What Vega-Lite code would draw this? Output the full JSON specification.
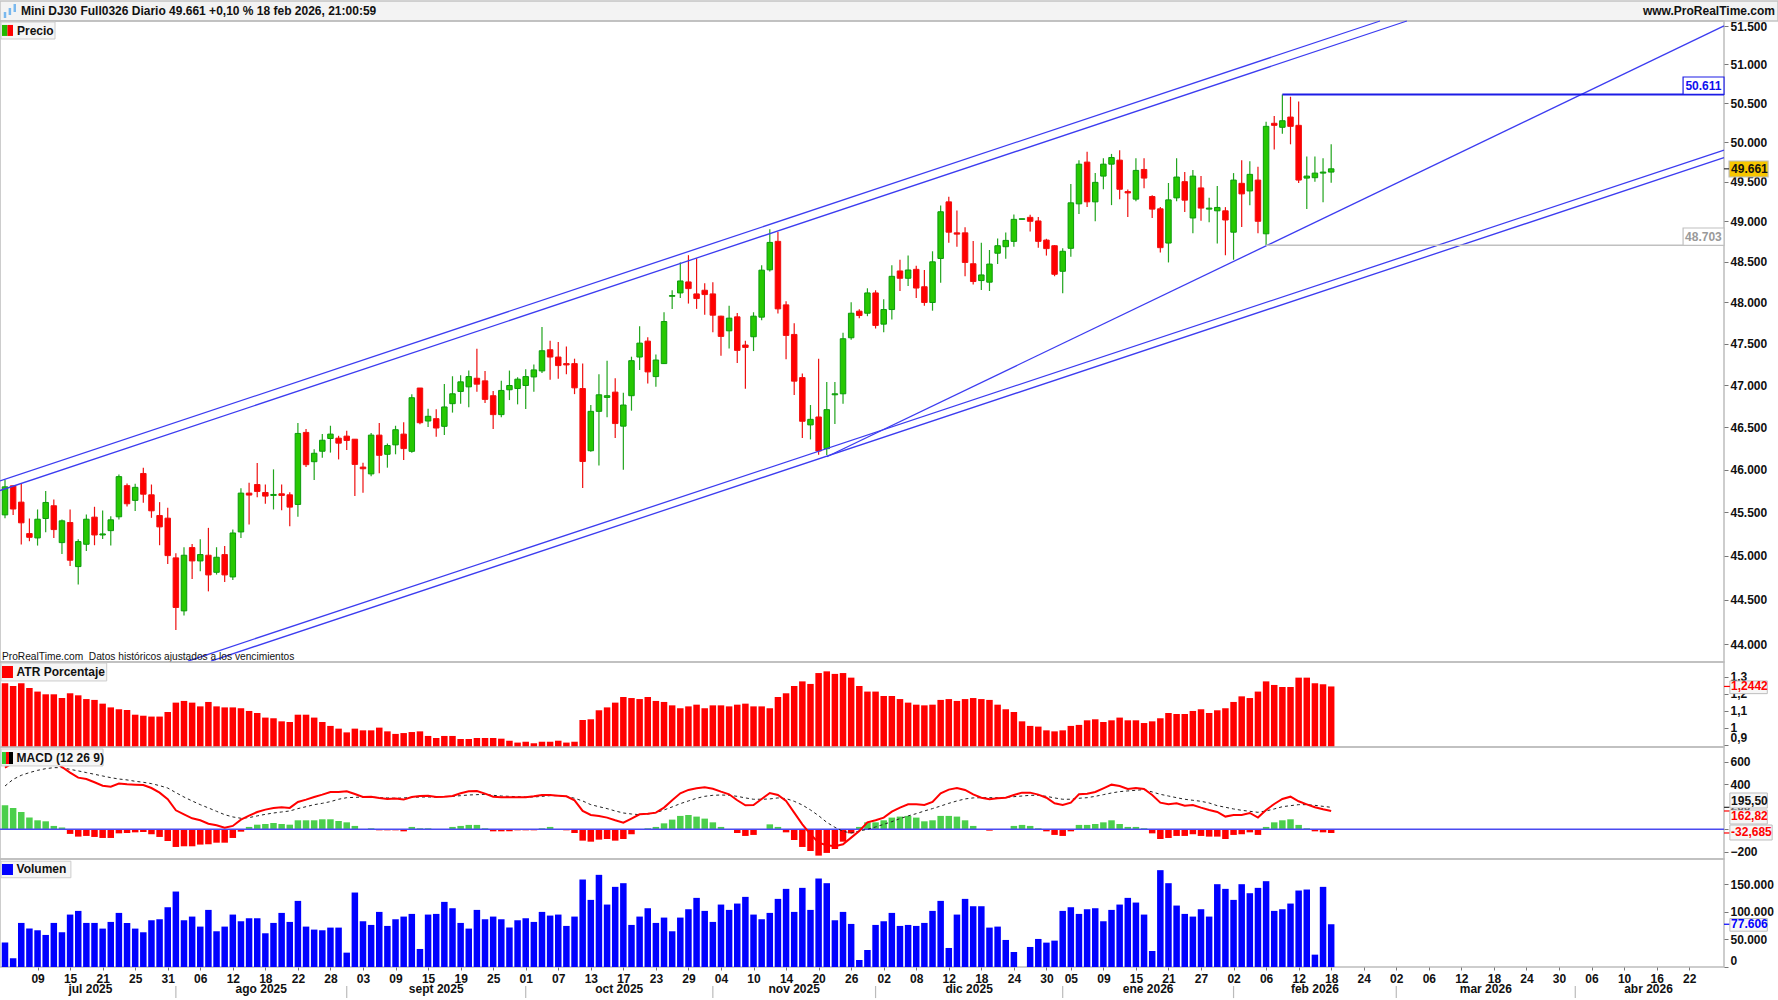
{
"$schema":"https://vega.github.io/schema/vega-lite/v6.json",
"padding":{"left":-4,"top":0,"right":0,"bottom":0},
"background":"#ffffff",
"spacing":0,
"bounds":"flush",
"config":{
 "font":"Liberation Sans",
 "view":{"stroke":"#bdbdbd","strokeWidth":1.5},
 "axis":{"grid":false,"domain":false,"title":null,"labelFont":"Liberation Sans","labelFontSize":12,"labelFontWeight":"bold","labelColor":"#111111","tickColor":"#777777","tickSize":4,"labelPadding":2,"labelOverlap":false,"labelBound":false},
 "text":{"font":"Liberation Sans","fontSize":12,"fontWeight":"bold","color":"#111111"}
},
"datasets":{"bars":[
{"i":0,"o":45472,"h":45881,"l":45432,"c":45798,"atr":1.263,"macd":548,"signal":385,"hist":213,"vol":44238},
{"i":1,"o":45810,"h":45810,"l":45472,"c":45540,"atr":1.247,"macd":593,"signal":444,"hist":190,"vol":15756},
{"i":2,"o":45620,"h":45833,"l":45129,"c":45380,"atr":1.263,"macd":622,"signal":480,"hist":154,"vol":79992},
{"i":3,"o":45256,"h":45430,"l":45168,"c":45213,"atr":1.235,"macd":637,"signal":504,"hist":104,"vol":69690},
{"i":4,"o":45206,"h":45535,"l":45118,"c":45422,"atr":1.214,"macd":643,"signal":524,"hist":80,"vol":66660},
{"i":5,"o":45430,"h":45749,"l":45271,"c":45616,"atr":1.198,"macd":637,"signal":539,"hist":71,"vol":58176},
{"i":6,"o":45578,"h":45651,"l":45206,"c":45302,"atr":1.198,"macd":607,"signal":548,"hist":30,"vol":79992},
{"i":7,"o":45152,"h":45419,"l":45022,"c":45403,"atr":1.176,"macd":554,"signal":548,"hist":15,"vol":63024},
{"i":8,"o":45384,"h":45535,"l":44885,"c":44950,"atr":1.204,"macd":504,"signal":533,"hist":-41,"vol":95142},
{"i":9,"o":44877,"h":45190,"l":44674,"c":45164,"atr":1.192,"macd":459,"signal":519,"hist":-65,"vol":101808},
{"i":10,"o":45133,"h":45477,"l":45057,"c":45422,"atr":1.17,"macd":447,"signal":504,"hist":-59,"vol":79992},
{"i":11,"o":45446,"h":45566,"l":45122,"c":45240,"atr":1.165,"macd":418,"signal":489,"hist":-68,"vol":79992},
{"i":12,"o":45240,"h":45523,"l":45194,"c":45252,"atr":1.143,"macd":388,"signal":474,"hist":-77,"vol":69690},
{"i":13,"o":45290,"h":45457,"l":45118,"c":45415,"atr":1.121,"macd":379,"signal":459,"hist":-77,"vol":81810},
{"i":14,"o":45450,"h":45942,"l":45419,"c":45917,"atr":1.11,"macd":406,"signal":447,"hist":-36,"vol":98172},
{"i":15,"o":45812,"h":45837,"l":45570,"c":45601,"atr":1.106,"macd":400,"signal":439,"hist":-33,"vol":79992},
{"i":16,"o":45640,"h":45833,"l":45516,"c":45792,"atr":1.078,"macd":397,"signal":427,"hist":-27,"vol":69690},
{"i":17,"o":45954,"h":46022,"l":45612,"c":45712,"atr":1.072,"macd":394,"signal":418,"hist":-24,"vol":63024},
{"i":18,"o":45705,"h":45825,"l":45438,"c":45519,"atr":1.067,"macd":367,"signal":406,"hist":-44,"vol":84840},
{"i":19,"o":45465,"h":45620,"l":45122,"c":45333,"atr":1.067,"macd":326,"signal":388,"hist":-68,"vol":86658},
{"i":20,"o":45434,"h":45554,"l":44908,"c":45003,"atr":1.094,"macd":267,"signal":367,"hist":-104,"vol":108474},
{"i":21,"o":44977,"h":45030,"l":44157,"c":44412,"atr":1.149,"macd":169,"signal":326,"hist":-157,"vol":136956},
{"i":22,"o":44374,"h":45099,"l":44322,"c":45007,"atr":1.159,"macd":133,"signal":287,"hist":-151,"vol":84840},
{"i":23,"o":45095,"h":45137,"l":44736,"c":44942,"atr":1.149,"macd":98,"signal":252,"hist":-151,"vol":91506},
{"i":24,"o":44942,"h":45190,"l":44824,"c":45015,"atr":1.127,"macd":80,"signal":219,"hist":-136,"vol":73326},
{"i":25,"o":45007,"h":45322,"l":44595,"c":44782,"atr":1.153,"macd":50,"signal":190,"hist":-133,"vol":103626},
{"i":26,"o":44812,"h":45099,"l":44786,"c":44984,"atr":1.127,"macd":36,"signal":160,"hist":-119,"vol":64842},
{"i":27,"o":45015,"h":45114,"l":44702,"c":44782,"atr":1.121,"macd":15,"signal":130,"hist":-119,"vol":73326},
{"i":28,"o":44759,"h":45302,"l":44725,"c":45263,"atr":1.121,"macd":30,"signal":110,"hist":-77,"vol":95142},
{"i":29,"o":45275,"h":45782,"l":45206,"c":45725,"atr":1.116,"macd":86,"signal":98,"hist":-21,"vol":83022},
{"i":30,"o":45725,"h":45845,"l":45360,"c":45702,"atr":1.1,"macd":121,"signal":104,"hist":21,"vol":88476},
{"i":31,"o":45825,"h":46076,"l":45678,"c":45744,"atr":1.088,"macd":154,"signal":119,"hist":41,"vol":88476},
{"i":32,"o":45732,"h":45825,"l":45601,"c":45690,"atr":1.061,"macd":175,"signal":133,"hist":47,"vol":61206},
{"i":33,"o":45698,"h":46002,"l":45535,"c":45709,"atr":1.057,"macd":190,"signal":145,"hist":56,"vol":79992},
{"i":34,"o":45717,"h":45825,"l":45527,"c":45698,"atr":1.039,"macd":196,"signal":154,"hist":47,"vol":98172},
{"i":35,"o":45705,"h":45736,"l":45341,"c":45562,"atr":1.035,"macd":190,"signal":163,"hist":41,"vol":81810},
{"i":36,"o":45593,"h":46548,"l":45450,"c":46425,"atr":1.078,"macd":243,"signal":184,"hist":80,"vol":119988},
{"i":37,"o":46437,"h":46477,"l":46029,"c":46057,"atr":1.078,"macd":264,"signal":201,"hist":80,"vol":73326},
{"i":38,"o":46092,"h":46239,"l":45877,"c":46191,"atr":1.061,"macd":287,"signal":219,"hist":80,"vol":67872},
{"i":39,"o":46215,"h":46417,"l":46139,"c":46345,"atr":1.035,"macd":308,"signal":231,"hist":89,"vol":66660},
{"i":40,"o":46365,"h":46516,"l":46199,"c":46417,"atr":1.012,"macd":332,"signal":246,"hist":89,"vol":71508},
{"i":41,"o":46369,"h":46397,"l":46119,"c":46310,"atr":0.996,"macd":332,"signal":267,"hist":74,"vol":71508},
{"i":42,"o":46393,"h":46457,"l":46230,"c":46342,"atr":0.974,"macd":338,"signal":281,"hist":62,"vol":26058},
{"i":43,"o":46357,"h":46357,"l":45690,"c":46060,"atr":0.996,"macd":314,"signal":284,"hist":30,"vol":135138},
{"i":44,"o":46029,"h":46080,"l":45729,"c":46009,"atr":0.986,"macd":287,"signal":287,"hist":0,"vol":83022},
{"i":45,"o":45949,"h":46429,"l":45922,"c":46405,"atr":0.986,"macd":290,"signal":287,"hist":9,"vol":76356},
{"i":46,"o":46405,"h":46548,"l":45957,"c":46167,"atr":1.002,"macd":279,"signal":281,"hist":-9,"vol":99990},
{"i":47,"o":46179,"h":46306,"l":46022,"c":46282,"atr":0.98,"macd":270,"signal":279,"hist":-9,"vol":74538},
{"i":48,"o":46290,"h":46516,"l":46179,"c":46469,"atr":0.965,"macd":273,"signal":276,"hist":-9,"vol":86658},
{"i":49,"o":46417,"h":46556,"l":46112,"c":46246,"atr":0.97,"macd":264,"signal":279,"hist":-18,"vol":91506},
{"i":50,"o":46214,"h":46890,"l":46197,"c":46849,"atr":0.976,"macd":287,"signal":284,"hist":21,"vol":96354},
{"i":51,"o":46965,"h":46965,"l":46533,"c":46552,"atr":0.98,"macd":296,"signal":287,"hist":9,"vol":32724},
{"i":52,"o":46572,"h":46718,"l":46501,"c":46628,"atr":0.953,"macd":299,"signal":287,"hist":9,"vol":95142},
{"i":53,"o":46600,"h":46711,"l":46386,"c":46489,"atr":0.941,"macd":287,"signal":287,"hist":0,"vol":96354},
{"i":54,"o":46509,"h":47013,"l":46407,"c":46739,"atr":0.953,"macd":290,"signal":290,"hist":0,"vol":118170},
{"i":55,"o":46778,"h":47106,"l":46672,"c":46896,"atr":0.953,"macd":296,"signal":293,"hist":21,"vol":106656},
{"i":56,"o":46924,"h":47118,"l":46778,"c":47039,"atr":0.935,"macd":320,"signal":299,"hist":30,"vol":79992},
{"i":57,"o":46979,"h":47174,"l":46735,"c":47102,"atr":0.935,"macd":338,"signal":305,"hist":39,"vol":69690},
{"i":58,"o":47082,"h":47437,"l":46920,"c":47011,"atr":0.941,"macd":341,"signal":308,"hist":39,"vol":103626},
{"i":59,"o":47051,"h":47170,"l":46786,"c":46829,"atr":0.941,"macd":317,"signal":311,"hist":9,"vol":86658},
{"i":60,"o":46873,"h":46928,"l":46476,"c":46648,"atr":0.941,"macd":290,"signal":302,"hist":-18,"vol":91506},
{"i":61,"o":46648,"h":47051,"l":46617,"c":46936,"atr":0.937,"macd":284,"signal":296,"hist":-18,"vol":86658},
{"i":62,"o":46944,"h":47174,"l":46821,"c":46995,"atr":0.925,"macd":284,"signal":293,"hist":-18,"vol":71508},
{"i":63,"o":46959,"h":47094,"l":46770,"c":47071,"atr":0.914,"macd":284,"signal":290,"hist":-9,"vol":84840},
{"i":64,"o":46995,"h":47190,"l":46715,"c":47102,"atr":0.919,"macd":284,"signal":287,"hist":-9,"vol":88476},
{"i":65,"o":47098,"h":47246,"l":46920,"c":47182,"atr":0.91,"macd":293,"signal":287,"hist":-9,"vol":81810},
{"i":66,"o":47170,"h":47701,"l":47146,"c":47413,"atr":0.919,"macd":305,"signal":293,"hist":9,"vol":99990},
{"i":67,"o":47425,"h":47534,"l":47063,"c":47337,"atr":0.919,"macd":305,"signal":299,"hist":21,"vol":93324},
{"i":68,"o":47337,"h":47518,"l":47075,"c":47234,"atr":0.925,"macd":299,"signal":299,"hist":0,"vol":95142},
{"i":69,"o":47258,"h":47465,"l":47130,"c":47242,"atr":0.914,"macd":293,"signal":293,"hist":-9,"vol":74538},
{"i":70,"o":47258,"h":47317,"l":46892,"c":46967,"atr":0.919,"macd":258,"signal":276,"hist":-33,"vol":91506},
{"i":71,"o":46959,"h":47258,"l":45783,"c":46094,"atr":1.047,"macd":163,"signal":252,"hist":-101,"vol":158772},
{"i":72,"o":46221,"h":46762,"l":46210,"c":46687,"atr":1.051,"macd":127,"signal":219,"hist":-110,"vol":121806},
{"i":73,"o":46687,"h":47130,"l":46048,"c":46884,"atr":1.104,"macd":119,"signal":201,"hist":-92,"vol":167256},
{"i":74,"o":46853,"h":47293,"l":46617,"c":46873,"atr":1.121,"macd":104,"signal":184,"hist":-86,"vol":113322},
{"i":75,"o":46916,"h":47082,"l":46370,"c":46542,"atr":1.149,"macd":80,"signal":163,"hist":-101,"vol":145440},
{"i":76,"o":46511,"h":46908,"l":45998,"c":46762,"atr":1.182,"macd":59,"signal":145,"hist":-86,"vol":152106},
{"i":77,"o":46873,"h":47341,"l":46695,"c":47293,"atr":1.176,"macd":95,"signal":136,"hist":-44,"vol":76356},
{"i":78,"o":47337,"h":47710,"l":47182,"c":47505,"atr":1.17,"macd":133,"signal":130,"hist":0,"vol":91506},
{"i":79,"o":47529,"h":47577,"l":47019,"c":47158,"atr":1.182,"macd":139,"signal":136,"hist":9,"vol":106656},
{"i":80,"o":47102,"h":47369,"l":46979,"c":47301,"atr":1.159,"macd":148,"signal":148,"hist":21,"vol":79992},
{"i":81,"o":47258,"h":47880,"l":47254,"c":47767,"atr":1.153,"macd":193,"signal":172,"hist":53,"vol":89688},
{"i":82,"o":48075,"h":48148,"l":47921,"c":48084,"atr":1.133,"macd":258,"signal":199,"hist":86,"vol":64842},
{"i":83,"o":48116,"h":48490,"l":48055,"c":48263,"atr":1.116,"macd":320,"signal":228,"hist":119,"vol":89688},
{"i":84,"o":48251,"h":48581,"l":47986,"c":48169,"atr":1.127,"macd":350,"signal":252,"hist":127,"vol":104838},
{"i":85,"o":48104,"h":48544,"l":47921,"c":48047,"atr":1.137,"macd":364,"signal":276,"hist":113,"vol":125442},
{"i":86,"o":48149,"h":48235,"l":47848,"c":48096,"atr":1.116,"macd":373,"signal":293,"hist":95,"vol":101808},
{"i":87,"o":48104,"h":48247,"l":47638,"c":47844,"atr":1.133,"macd":361,"signal":302,"hist":62,"vol":81810},
{"i":88,"o":47832,"h":47836,"l":47353,"c":47586,"atr":1.133,"macd":335,"signal":305,"hist":21,"vol":113322},
{"i":89,"o":47654,"h":47958,"l":47441,"c":47808,"atr":1.127,"macd":311,"signal":302,"hist":0,"vol":103626},
{"i":90,"o":47824,"h":47870,"l":47266,"c":47417,"atr":1.137,"macd":258,"signal":293,"hist":-33,"vol":115140},
{"i":91,"o":47482,"h":47534,"l":46955,"c":47453,"atr":1.143,"macd":213,"signal":279,"hist":-59,"vol":127260},
{"i":92,"o":47582,"h":47880,"l":47409,"c":47832,"atr":1.127,"macd":216,"signal":267,"hist":-50,"vol":95142},
{"i":93,"o":47820,"h":48457,"l":47783,"c":48396,"atr":1.127,"macd":270,"signal":267,"hist":0,"vol":86658},
{"i":94,"o":48400,"h":48902,"l":48379,"c":48739,"atr":1.116,"macd":323,"signal":270,"hist":44,"vol":98172},
{"i":95,"o":48752,"h":48868,"l":47864,"c":47921,"atr":1.182,"macd":305,"signal":279,"hist":21,"vol":123624},
{"i":96,"o":47970,"h":48015,"l":47309,"c":47598,"atr":1.204,"macd":252,"signal":273,"hist":-27,"vol":141804},
{"i":97,"o":47610,"h":47747,"l":46881,"c":47047,"atr":1.247,"macd":148,"signal":249,"hist":-95,"vol":99990},
{"i":98,"o":47090,"h":47138,"l":46370,"c":46569,"atr":1.274,"macd":44,"signal":216,"hist":-157,"vol":143622},
{"i":99,"o":46526,"h":46762,"l":46354,"c":46592,"atr":1.259,"macd":-44,"signal":172,"hist":-193,"vol":103626},
{"i":100,"o":46620,"h":47317,"l":46175,"c":46218,"atr":1.323,"macd":-119,"signal":121,"hist":-234,"vol":160590},
{"i":101,"o":46245,"h":47037,"l":46171,"c":46707,"atr":1.333,"macd":-142,"signal":62,"hist":-210,"vol":152106},
{"i":102,"o":46884,"h":47037,"l":46538,"c":46896,"atr":1.318,"macd":-151,"signal":18,"hist":-175,"vol":84840},
{"i":103,"o":46896,"h":47631,"l":46778,"c":47558,"atr":1.323,"macd":-133,"signal":-18,"hist":-110,"vol":99990},
{"i":104,"o":47570,"h":48002,"l":47546,"c":47868,"atr":1.296,"macd":-74,"signal":-33,"hist":-36,"vol":78174},
{"i":105,"o":47893,"h":47917,"l":47808,"c":47840,"atr":1.247,"macd":-15,"signal":-15,"hist":21,"vol":12726},
{"i":106,"o":47868,"h":48173,"l":47832,"c":48116,"atr":1.214,"macd":62,"signal":0,"hist":62,"vol":30906},
{"i":107,"o":48116,"h":48149,"l":47682,"c":47719,"atr":1.214,"macd":80,"signal":21,"hist":62,"vol":76356},
{"i":108,"o":47735,"h":48039,"l":47638,"c":47913,"atr":1.188,"macd":104,"signal":44,"hist":80,"vol":83022},
{"i":109,"o":47913,"h":48457,"l":47791,"c":48320,"atr":1.188,"macd":157,"signal":68,"hist":104,"vol":98172},
{"i":110,"o":48386,"h":48524,"l":48140,"c":48296,"atr":1.17,"macd":193,"signal":95,"hist":113,"vol":74538},
{"i":111,"o":48296,"h":48576,"l":48200,"c":48398,"atr":1.149,"macd":222,"signal":119,"hist":119,"vol":76356},
{"i":112,"o":48406,"h":48451,"l":48055,"c":48176,"atr":1.137,"macd":222,"signal":139,"hist":104,"vol":74538},
{"i":113,"o":48192,"h":48398,"l":47959,"c":47999,"atr":1.133,"macd":216,"signal":163,"hist":71,"vol":79992},
{"i":114,"o":47999,"h":48629,"l":47899,"c":48499,"atr":1.137,"macd":243,"signal":184,"hist":80,"vol":101808},
{"i":115,"o":48540,"h":49200,"l":48240,"c":49121,"atr":1.165,"macd":320,"signal":207,"hist":119,"vol":119988},
{"i":116,"o":49245,"h":49308,"l":48735,"c":48866,"atr":1.17,"macd":353,"signal":231,"hist":119,"vol":34542},
{"i":117,"o":48858,"h":49138,"l":48686,"c":48842,"atr":1.159,"macd":367,"signal":252,"hist":113,"vol":95142},
{"i":118,"o":48858,"h":48928,"l":48321,"c":48491,"atr":1.17,"macd":350,"signal":270,"hist":80,"vol":123624},
{"i":119,"o":48475,"h":48756,"l":48220,"c":48256,"atr":1.176,"macd":311,"signal":279,"hist":30,"vol":110292},
{"i":120,"o":48268,"h":48735,"l":48152,"c":48337,"atr":1.17,"macd":281,"signal":281,"hist":0,"vol":110292},
{"i":121,"o":48248,"h":48645,"l":48140,"c":48471,"atr":1.165,"macd":267,"signal":281,"hist":-12,"vol":71508},
{"i":122,"o":48605,"h":48788,"l":48471,"c":48698,"atr":1.137,"macd":276,"signal":281,"hist":0,"vol":73326},
{"i":123,"o":48686,"h":48862,"l":48536,"c":48764,"atr":1.11,"macd":281,"signal":284,"hist":0,"vol":49086},
{"i":124,"o":48752,"h":49088,"l":48686,"c":49026,"atr":1.094,"macd":305,"signal":290,"hist":30,"vol":27270},
{"i":125,"o":49026,"h":49034,"l":49026,"c":49034,"atr":1.039,"macd":326,"signal":296,"hist":39,"vol":0},
{"i":126,"o":49051,"h":49084,"l":48875,"c":49002,"atr":1.012,"macd":326,"signal":302,"hist":30,"vol":36360},
{"i":127,"o":49006,"h":49055,"l":48674,"c":48752,"atr":1.008,"macd":308,"signal":302,"hist":9,"vol":50904},
{"i":128,"o":48768,"h":48784,"l":48576,"c":48662,"atr":0.986,"macd":281,"signal":293,"hist":-18,"vol":44238},
{"i":129,"o":48698,"h":48706,"l":48321,"c":48345,"atr":0.98,"macd":231,"signal":279,"hist":-50,"vol":47874},
{"i":130,"o":48382,"h":48666,"l":48112,"c":48629,"atr":0.986,"macd":216,"signal":267,"hist":-59,"vol":101808},
{"i":131,"o":48666,"h":49470,"l":48560,"c":49233,"atr":1.012,"macd":237,"signal":267,"hist":-18,"vol":108474},
{"i":132,"o":49220,"h":49771,"l":49092,"c":49720,"atr":1.018,"macd":311,"signal":276,"hist":39,"vol":96354},
{"i":133,"o":49746,"h":49876,"l":49179,"c":49245,"atr":1.045,"macd":317,"signal":281,"hist":39,"vol":104838},
{"i":134,"o":49245,"h":49607,"l":49002,"c":49490,"atr":1.051,"macd":332,"signal":293,"hist":47,"vol":106656},
{"i":135,"o":49569,"h":49796,"l":49403,"c":49720,"atr":1.035,"macd":364,"signal":308,"hist":62,"vol":83022},
{"i":136,"o":49720,"h":49850,"l":49204,"c":49804,"atr":1.045,"macd":397,"signal":323,"hist":80,"vol":103626},
{"i":137,"o":49771,"h":49896,"l":49279,"c":49403,"atr":1.061,"macd":385,"signal":335,"hist":47,"vol":113322},
{"i":138,"o":49374,"h":49399,"l":49055,"c":49357,"atr":1.045,"macd":359,"signal":341,"hist":21,"vol":125442},
{"i":139,"o":49279,"h":49796,"l":49254,"c":49641,"atr":1.045,"macd":367,"signal":347,"hist":21,"vol":116958},
{"i":140,"o":49653,"h":49796,"l":49416,"c":49544,"atr":1.029,"macd":359,"signal":353,"hist":9,"vol":95142},
{"i":141,"o":49312,"h":49328,"l":49043,"c":49154,"atr":1.039,"macd":305,"signal":332,"hist":-36,"vol":29088},
{"i":142,"o":49158,"h":49179,"l":48613,"c":48674,"atr":1.057,"macd":237,"signal":311,"hist":-86,"vol":175740},
{"i":143,"o":48731,"h":49482,"l":48491,"c":49270,"atr":1.088,"macd":222,"signal":296,"hist":-77,"vol":152106},
{"i":144,"o":49295,"h":49796,"l":49254,"c":49557,"atr":1.082,"macd":231,"signal":281,"hist":-59,"vol":111504},
{"i":145,"o":49499,"h":49620,"l":49117,"c":49266,"atr":1.082,"macd":210,"signal":267,"hist":-59,"vol":96354},
{"i":146,"o":49043,"h":49645,"l":48854,"c":49569,"atr":1.1,"macd":216,"signal":258,"hist":-44,"vol":91506},
{"i":147,"o":49420,"h":49569,"l":49010,"c":49167,"atr":1.11,"macd":193,"signal":249,"hist":-59,"vol":104838},
{"i":148,"o":49154,"h":49295,"l":48989,"c":49167,"atr":1.088,"macd":172,"signal":234,"hist":-65,"vol":91506},
{"i":149,"o":49133,"h":49445,"l":48727,"c":49175,"atr":1.104,"macd":154,"signal":210,"hist":-65,"vol":150288},
{"i":150,"o":49133,"h":49179,"l":48580,"c":49018,"atr":1.116,"macd":113,"signal":196,"hist":-86,"vol":141804},
{"i":151,"o":48866,"h":49607,"l":48524,"c":49519,"atr":1.153,"macd":127,"signal":181,"hist":-50,"vol":121806},
{"i":152,"o":49478,"h":49771,"l":48932,"c":49345,"atr":1.186,"macd":127,"signal":169,"hist":-44,"vol":150288},
{"i":153,"o":49382,"h":49758,"l":49204,"c":49591,"atr":1.176,"macd":145,"signal":160,"hist":-27,"vol":133926},
{"i":154,"o":49519,"h":49687,"l":48854,"c":49002,"atr":1.214,"macd":104,"signal":151,"hist":-50,"vol":143622},
{"i":155,"o":48846,"h":50261,"l":48703,"c":50201,"atr":1.274,"macd":172,"signal":163,"hist":21,"vol":155742},
{"i":156,"o":50240,"h":50333,"l":49905,"c":50214,"atr":1.253,"macd":225,"signal":181,"hist":62,"vol":101808},
{"i":157,"o":50189,"h":50611,"l":50108,"c":50273,"atr":1.241,"macd":270,"signal":201,"hist":80,"vol":104838},
{"i":158,"o":50320,"h":50581,"l":49972,"c":50201,"atr":1.241,"macd":290,"signal":210,"hist":89,"vol":115140},
{"i":159,"o":50214,"h":50521,"l":49482,"c":49519,"atr":1.296,"macd":249,"signal":219,"hist":39,"vol":138774},
{"i":160,"o":49544,"h":49817,"l":49154,"c":49569,"atr":1.296,"macd":222,"signal":219,"hist":9,"vol":140592},
{"i":161,"o":49549,"h":49817,"l":49499,"c":49607,"atr":1.263,"macd":196,"signal":213,"hist":-18,"vol":22422},
{"i":162,"o":49607,"h":49796,"l":49241,"c":49620,"atr":1.257,"macd":178,"signal":204,"hist":-27,"vol":145440},
{"i":163,"o":49620,"h":49972,"l":49486,"c":49661,"atr":1.2442,"macd":162.82,"signal":195.5,"hist":-32.685,"vol":77606}
]},
"vconcat":[
{"width":1778,"height":20,"view":{"fill":"#f3f3f3","stroke":"#c4c4c4"},
 "layer":[
  {"data":{"values":[{"i":0,"a":3,"b":9},{"i":0.6,"a":6,"b":13},{"i":1.2,"a":9,"b":17}]},
   "mark":{"type":"rule","color":"#79b8ee","strokeWidth":2.5},
   "encoding":{"x":{"field":"i","type":"quantitative","scale":{"domain":[-0.615,217.92],"nice":false,"zero":false},"axis":null},
    "y":{"field":"a","type":"quantitative","scale":{"domain":[0,20],"nice":false},"axis":null},"y2":{"field":"b"}}},
  {"data":{"values":[{"t":"Mini DJ30 Full0326 Diario 49.661 +0,10 % 18 feb 2026, 21:00:59"}]},
   "mark":{"type":"text","align":"left"},
   "encoding":{"x":{"datum":1.97,"axis":null},"text":{"field":"t"}}},
  {"data":{"values":[{"t":"www.ProRealTime.com"}]},
   "mark":{"type":"text","align":"right"},
   "encoding":{"x":{"datum":217.55,"axis":null},"text":{"field":"t"}}}
 ]},
{"width":1724,"height":641,"data":{"name":"bars"},
 "layer":[
  {"mark":{"type":"rule","strokeWidth":1.2},
   "encoding":{"x":{"field":"i","type":"quantitative","scale":{"domain":[-0.615,211.28],"nice":false,"zero":false,"padding":0},"axis":null},
    "y":{"field":"l","type":"quantitative","scale":{"type":"log","domain":[43800,51566],"nice":false},
     "axis":{"orient":"right","tickCount":100,"values":[44000,44500,45000,45500,46000,46500,47000,47500,48000,48500,49000,49500,50000,50500,51000,51500],"labelExpr":"replace(format(datum.value, ','), ',', '.')"}},
    "y2":{"field":"h"},
    "color":{"condition":{"test":"datum.c >= datum.o","value":"#22a51e"},"value":"#ee1010"}}},
  {"mark":{"type":"bar","width":5.5,"strokeWidth":1},
   "encoding":{"x":{"field":"i","type":"quantitative","axis":null},
    "y":{"field":"o","type":"quantitative"},"y2":{"field":"c"},
    "fill":{"condition":{"test":"datum.c >= datum.o","value":"#26c802"},"value":"#ff0000"},
    "stroke":{"condition":{"test":"datum.c >= datum.o","value":"#0c9a0c"},"value":"#f01010"}}},
  {"data":{"values":[
    {"name":"upA","i":-0.615,"p":45866},{"name":"upA","i":169,"p":51566},
    {"name":"upB","i":-0.615,"p":45755},{"name":"upB","i":172.3,"p":51566},
    {"name":"lowA","i":22.49,"p":43811},{"name":"lowA","i":211.28,"p":49899},
    {"name":"lowB","i":25.32,"p":43811},{"name":"lowB","i":211.28,"p":49802},
    {"name":"steep","i":101,"p":46150},{"name":"steep","i":211.28,"p":51501}]},
   "mark":{"type":"line","color":"#3c3cf0","strokeWidth":1.3},
   "encoding":{"x":{"field":"i","type":"quantitative","axis":null},"y":{"field":"p","type":"quantitative"},"detail":{"field":"name"}}},
  {"data":{"values":[{"i":157,"p":50611},{"i":211.28,"p":50611}]},
   "mark":{"type":"line","color":"#1c1ce6","strokeWidth":2},
   "encoding":{"x":{"field":"i","type":"quantitative","axis":null},"y":{"field":"p","type":"quantitative"}}},
  {"data":{"values":[{"i":155,"p":48703},{"i":211.28,"p":48703}]},
   "mark":{"type":"line","color":"#c0c0c0","strokeWidth":1.5},
   "encoding":{"x":{"field":"i","type":"quantitative","axis":null},"y":{"field":"p","type":"quantitative"}}},
  {"data":{"values":[{}]},"mark":{"type":"rect","fill":"#ffffff","stroke":"#1c1ce6","strokeWidth":1.2},
   "encoding":{"x":{"datum":206.25,"axis":null},"x2":{"datum":211.28},"y":{"datum":50836},"y2":{"datum":50611}}},
  {"data":{"values":[{"t":"50.611"}]},"mark":{"type":"text","color":"#1010ee"},
   "encoding":{"x":{"datum":208.75,"axis":null},"y":{"datum":50720},"text":{"field":"t"}}},
  {"data":{"values":[{}]},"mark":{"type":"rect","fill":"#ffffff","stroke":"#c0c0c0","strokeWidth":1.2},
   "encoding":{"x":{"datum":206.25,"axis":null},"x2":{"datum":211.28},"y":{"datum":48918},"y2":{"datum":48703}}},
  {"data":{"values":[{"t":"48.703"}]},"mark":{"type":"text","color":"#999999"},
   "encoding":{"x":{"datum":208.75,"axis":null},"y":{"datum":48806},"text":{"field":"t"}}},
  {"data":{"values":[{}]},"mark":{"type":"rect","fill":"#f7c600","stroke":"#bdbdbd","strokeWidth":1.2},
   "encoding":{"x":{"datum":211.9,"axis":null},"x2":{"datum":216.7},"y":{"datum":49760},"y2":{"datum":49558}}},
  {"data":{"values":[{}]},"mark":{"type":"rule","color":"#333333","strokeWidth":1.2},
   "encoding":{"x":{"datum":211.28,"axis":null},"x2":{"datum":211.9},"y":{"datum":49661}}},
  {"data":{"values":[{"t":"49.661"}]},"mark":{"type":"text","align":"left"},
   "encoding":{"x":{"datum":212.15,"axis":null},"y":{"datum":49661},"text":{"field":"t"}}},
  {"data":{"values":[{}]},"mark":{"type":"rect","fill":"#f6f6f6","stroke":"#cccccc"},
   "encoding":{"x":{"datum":-0.49,"axis":null},"x2":{"datum":6.15},"y":{"datum":51553},"y2":{"datum":51330}}},
  {"data":{"values":[{}]},"mark":{"type":"rect","fill":"#22b800"},
   "encoding":{"x":{"datum":-0.37,"axis":null},"x2":{"datum":0.3},"y":{"datum":51514},"y2":{"datum":51370}}},
  {"data":{"values":[{}]},"mark":{"type":"rect","fill":"#ff0000"},
   "encoding":{"x":{"datum":0.3,"axis":null},"x2":{"datum":0.98},"y":{"datum":51514},"y2":{"datum":51370}}},
  {"data":{"values":[{"t":"Precio"}]},"mark":{"type":"text","align":"left"},
   "encoding":{"x":{"datum":1.47,"axis":null},"y":{"datum":51441},"text":{"field":"t"}}},
  {"data":{"values":[{"t":"ProRealTime.com \u00a0Datos históricos ajustados a los vencimientos"}]},
   "mark":{"type":"text","align":"left","fontWeight":"normal","fontSize":10.2},
   "encoding":{"x":{"datum":-0.37,"axis":null},"y":{"datum":43859},"text":{"field":"t"}}}
 ]},
{"width":1724,"height":85,"data":{"name":"bars"},
 "layer":[
  {"mark":{"type":"bar","width":6.5,"color":"#ff0000"},
   "encoding":{"x":{"field":"i","type":"quantitative","scale":{"domain":[-0.615,211.28],"nice":false,"zero":false,"padding":0},"axis":null},
    "y":{"field":"atr","type":"quantitative","scale":{"domain":[0.888,1.388],"nice":false,"zero":false},
     "axis":{"orient":"right","tickCount":100,"values":[0.9,1,1.1,1.2,1.3],"labelExpr":"replace(datum.value + '', '.', ',')",
      "labelBaseline":{"condition":{"test":"datum.value == 0.9","value":"bottom"},"value":"middle"}}},
    "y2":{"datum":0.888}}},
  {"data":{"values":[{}]},"mark":{"type":"rect","fill":"#f6f6f6","stroke":"#cccccc"},
   "encoding":{"x":{"datum":-0.49,"axis":null},"x2":{"datum":12.5},"y":{"datum":1.382},"y2":{"datum":1.2765}}},
  {"data":{"values":[{}]},"mark":{"type":"rect","fill":"#ff0000"},
   "encoding":{"x":{"datum":-0.37,"axis":null},"x2":{"datum":0.98},"y":{"datum":1.365},"y2":{"datum":1.294}}},
  {"data":{"values":[{"t":"ATR Porcentaje"}]},"mark":{"type":"text","align":"left"},
   "encoding":{"x":{"datum":1.42,"axis":null},"y":{"datum":1.329},"text":{"field":"t"}}},
  {"data":{"values":[{}]},"mark":{"type":"rect","fill":"#f6f6f6","stroke":"#bdbdbd"},
   "encoding":{"x":{"datum":212,"axis":null},"x2":{"datum":216.6},"y":{"datum":1.2765},"y2":{"datum":1.2018}}},
  {"data":{"values":[{}]},"mark":{"type":"rule","color":"#ff0000","strokeWidth":1.2},
   "encoding":{"x":{"datum":211.28,"axis":null},"x2":{"datum":212},"y":{"datum":1.2442}}},
  {"data":{"values":[{"t":"1,2442"}]},"mark":{"type":"text","align":"left","color":"#ff0000"},
   "encoding":{"x":{"datum":212.15,"axis":null},"y":{"datum":1.2442},"text":{"field":"t"}}}
 ]},
{"width":1724,"height":112,"data":{"name":"bars"},
 "layer":[
  {"mark":{"type":"bar","width":6.5},
   "encoding":{"x":{"field":"i","type":"quantitative","scale":{"domain":[-0.615,211.28],"nice":false,"zero":false,"padding":0},"axis":null},
    "y":{"field":"hist","type":"quantitative","scale":{"domain":[-264,731.6],"nice":false,"zero":false},
     "axis":{"orient":"right","tickCount":100,"values":[600,400,200,0,-200]}},
    "color":{"condition":{"test":"datum.hist >= 0","value":"#4ccf4c"},"value":"#ff0000"}}},
  {"data":{"values":[{"i":-0.615,"v":0},{"i":211.28,"v":0}]},"mark":{"type":"line","color":"#4a4af0","strokeWidth":1.5},
   "encoding":{"x":{"field":"i","type":"quantitative","axis":null},"y":{"field":"v","type":"quantitative"}}},
  {"mark":{"type":"line","color":"#222222","strokeWidth":1,"strokeDash":[3,3]},
   "encoding":{"x":{"field":"i","type":"quantitative","axis":null},"y":{"field":"signal","type":"quantitative"}}},
  {"mark":{"type":"line","color":"#ff0000","strokeWidth":2},
   "encoding":{"x":{"field":"i","type":"quantitative","axis":null},"y":{"field":"macd","type":"quantitative"}}},
  {"data":{"values":[{}]},"mark":{"type":"rect","fill":"#f6f6f6","stroke":"#cccccc"},
   "encoding":{"x":{"datum":-0.49,"axis":null},"x2":{"datum":12.05},"y":{"datum":714},"y2":{"datum":563}}},
  {"data":{"values":[{}]},"mark":{"type":"rect","fill":"#33cc33"},
   "encoding":{"x":{"datum":-0.37,"axis":null},"x2":{"datum":0.12},"y":{"datum":687},"y2":{"datum":580}}},
  {"data":{"values":[{}]},"mark":{"type":"rect","fill":"#ff0000"},
   "encoding":{"x":{"datum":0.12,"axis":null},"x2":{"datum":0.49},"y":{"datum":687},"y2":{"datum":580}}},
  {"data":{"values":[{}]},"mark":{"type":"rect","fill":"#000000"},
   "encoding":{"x":{"datum":0.49,"axis":null},"x2":{"datum":0.98},"y":{"datum":687},"y2":{"datum":580}}},
  {"data":{"values":[{"t":"MACD (12 26 9)"}]},"mark":{"type":"text","align":"left"},
   "encoding":{"x":{"datum":1.42,"axis":null},"y":{"datum":638},"text":{"field":"t"}}},
  {"data":{"values":[{}]},"mark":{"type":"rule","color":"#333333","strokeWidth":1.2},
   "encoding":{"x":{"datum":211.28,"axis":null},"x2":{"datum":212},"y":{"datum":195.5}}},
  {"data":{"values":[{}]},"mark":{"type":"rule","color":"#ff0000","strokeWidth":1.2},
   "encoding":{"x":{"datum":211.28,"axis":null},"x2":{"datum":212},"y":{"datum":162.82}}},
  {"data":{"values":[{}]},"mark":{"type":"rule","color":"#ff0000","strokeWidth":1.2},
   "encoding":{"x":{"datum":211.28,"axis":null},"x2":{"datum":212},"y":{"datum":-32.685}}},
  {"data":{"values":[{}]},"mark":{"type":"rect","fill":"#f6f6f6","stroke":"#bdbdbd"},
   "encoding":{"x":{"datum":212,"axis":null},"x2":{"datum":216.6},"y":{"datum":322.7},"y2":{"datum":189}}},
  {"data":{"values":[{"t":"195,50"}]},"mark":{"type":"text","align":"left"},
   "encoding":{"x":{"datum":212.15,"axis":null},"y":{"datum":251.5},"text":{"field":"t"}}},
  {"data":{"values":[{}]},"mark":{"type":"rect","fill":"#f6f6f6","stroke":"#bdbdbd"},
   "encoding":{"x":{"datum":212,"axis":null},"x2":{"datum":216.6},"y":{"datum":171.5},"y2":{"datum":47}}},
  {"data":{"values":[{"t":"162,82"}]},"mark":{"type":"text","align":"left","color":"#ff0000"},
   "encoding":{"x":{"datum":212.15,"axis":null},"y":{"datum":113.8},"text":{"field":"t"}}},
  {"data":{"values":[{}]},"mark":{"type":"rect","fill":"#f6f6f6","stroke":"#bdbdbd"},
   "encoding":{"x":{"datum":212,"axis":null},"x2":{"datum":217.2},"y":{"datum":38},"y2":{"datum":-95}}},
  {"data":{"values":[{"t":"-32,685"}]},"mark":{"type":"text","align":"left","color":"#ff0000"},
   "encoding":{"x":{"datum":212.15,"axis":null},"y":{"datum":-28.4},"text":{"field":"t"}}}
 ]},
{"width":1724,"height":108,"data":{"name":"bars"},
 "layer":[
  {"mark":{"type":"bar","width":6.5,"color":"#0000ff"},
   "encoding":{"x":{"field":"i","type":"quantitative","scale":{"domain":[-0.615,211.28],"nice":false,"zero":false,"padding":0},
     "axis":{"orient":"bottom","tickCount":100,"tickSize":3,"labelPadding":3,"labelFlush":false,"values":[4,8,12,16,20,24,28,32,36,40,44,48,52,56,60,64,68,72,76,80,84,88,92,96,100,104,108,112,116,120,124,128,131,135,139,143,147,151,155,159,163,167,171,175,179,183,187,191,195,199,203,207],
      "labelExpr":"{'4':'09','8':'15','12':'21','16':'25','20':'31','24':'06','28':'12','32':'18','36':'22','40':'28','44':'03','48':'09','52':'15','56':'19','60':'25','64':'01','68':'07','72':'13','76':'17','80':'23','84':'29','88':'04','92':'10','96':'14','100':'20','104':'26','108':'02','112':'08','116':'12','120':'18','124':'24','128':'30','131':'05','135':'09','139':'15','143':'21','147':'27','151':'02','155':'06','159':'12','163':'18','167':'24','171':'02','175':'06','179':'12','183':'18','187':'24','191':'30','195':'06','199':'10','203':'16','207':'22'}[datum.value]"}},
    "y":{"field":"vol","type":"quantitative","scale":{"domain":[0,196000],"nice":false},
     "axis":{"orient":"right","tickCount":100,"values":[0,50000,100000,150000],"labelExpr":"replace(format(datum.value, ','), ',', '.')",
      "labelBaseline":{"condition":{"test":"datum.value == 0","value":"bottom"},"value":"middle"}}}}},
  {"data":{"values":[{}]},"mark":{"type":"rect","fill":"#f6f6f6","stroke":"#cccccc"},
   "encoding":{"x":{"datum":-0.49},"x2":{"datum":8.1},"y":{"datum":192000},"y2":{"datum":162000}}},
  {"data":{"values":[{}]},"mark":{"type":"rect","fill":"#0000ff"},
   "encoding":{"x":{"datum":-0.37},"x2":{"datum":0.98},"y":{"datum":187000},"y2":{"datum":167000}}},
  {"data":{"values":[{"t":"Volumen"}]},"mark":{"type":"text","align":"left"},
   "encoding":{"x":{"datum":1.42},"y":{"datum":177000},"text":{"field":"t"}}},
  {"data":{"values":[{}]},"mark":{"type":"rule","color":"#0000ff","strokeWidth":1.2},
   "encoding":{"x":{"datum":211.28},"x2":{"datum":212},"y":{"datum":77606}}},
  {"data":{"values":[{}]},"mark":{"type":"rect","fill":"#f6f6f6","stroke":"#bdbdbd"},
   "encoding":{"x":{"datum":212},"x2":{"datum":216.6},"y":{"datum":88000},"y2":{"datum":65000}}},
  {"data":{"values":[{"t":"77.606"}]},"mark":{"type":"text","align":"left","color":"#0000ff"},
   "encoding":{"x":{"datum":212.15},"y":{"datum":77606},"text":{"field":"t"}}},
  {"data":{"values":[{"i":21},{"i":42},{"i":64},{"i":87},{"i":107},{"i":130},{"i":151},{"i":171},{"i":193}]},
   "mark":{"type":"rule","color":"#bbbbbb","strokeWidth":1.2},
   "encoding":{"x":{"field":"i","type":"quantitative"},"y":{"datum":-34500},"y2":{"datum":-56400}}},
  {"data":{"values":[{"i":10.5,"t":"jul 2025"},{"i":31.5,"t":"ago 2025"},{"i":53,"t":"sept 2025"},{"i":75.5,"t":"oct 2025"},{"i":97,"t":"nov 2025"},{"i":118.5,"t":"dic 2025"},{"i":140.5,"t":"ene 2026"},{"i":161,"t":"feb 2026"},{"i":182,"t":"mar 2026"},{"i":202,"t":"abr 2026"}]},
   "mark":{"type":"text"},
   "encoding":{"x":{"field":"i","type":"quantitative"},"y":{"datum":-40000},"text":{"field":"t"}}}
 ]}
]
}
